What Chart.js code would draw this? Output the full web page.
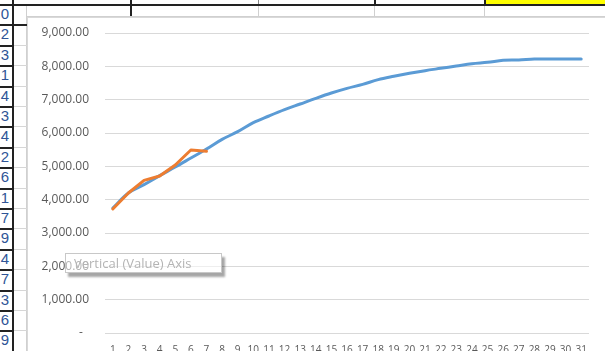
<!DOCTYPE html>
<html>
<head>
<meta charset="utf-8">
<script src="https://cdn.jsdelivr.net/npm/chart.js@4"></script>
<style>
    body { margin: 0; width: 605px; height: 351px; overflow: hidden; background: #fff; position: relative; font-family: 'Open Sans', sans-serif; }
    .ln { position: absolute; }
    .rownum { position: absolute; left: -3px; width: 12px; text-align: right; color: #2f5597; font-size: 15px; line-height: 20px; font-family: 'Liberation Sans', sans-serif; }
    #chartBox { position: absolute; left: 27px; top: 17px; width: 578px; height: 334px; background: #fff; border-left: 1px solid #d9d9d9; border-top: 1px solid #d9d9d9; }
    #tip { position: absolute; left: 65px; top: 253px; width: 147px; height: 18px; border: 1px solid #c8c8c8; background: rgba(255,255,255,0.55); box-shadow: 3px 4px 2px rgba(0,0,0,0.35); color: #b4b4b4; font-size: 13px; line-height: 18px; padding-left: 8px; white-space: nowrap; }
</style>
</head>
<body>
<div id="sheet"></div>
<div id="chartBox"><canvas id="myChart" width="578" height="334"></canvas></div>
<div id="tip">Vertical (Value) Axis</div>

<script>
// category labels (days)
const days = ['1', '2', '3', '4', '5', '6', '7', '8', '9', '10', '11', '12', '13', '14', '15', '16',
    '17', '18', '19', '20', '21', '22', '23', '24', '25', '26', '27', '28', '29', '30', '31'];

// blue series
const planned = [3750, 4200, 4450, 4720, 4980, 5250, 5520, 5810, 6040, 6310, 6510, 6700, 6870, 7040, 7200, 7340,
    7460, 7600, 7700, 7790, 7870, 7940, 8010, 8080, 8120, 8180, 8190, 8220, 8220, 8220, 8220];

// orange series (first week only)
const actual = [3720, 4200, 4580, 4710, 5040, 5490, 5450];

// y axis ticks
const yTicks = [0, 1000, 2000, 3000, 4000, 5000, 6000, 7000, 8000, 9000];

// row numbers down the left edge of the sheet
const rowNums = ['0', '2', '3', '1', '4', '3', '4', '2', '6', '1', '7', '9', '4', '7', '3', '6', '9'];

// --- sheet background (cells behind the chart) ---
const sheet = document.getElementById('sheet');
function line(x, y, w, h, color) {
    const d = document.createElement('div');
    d.className = 'ln';
    d.style.cssText = `left:${x}px;top:${y}px;width:${w}px;height:${h}px;background:${color};`;
    sheet.appendChild(d);
}
// yellow cell top right
line(485, 0, 120, 4, '#ffff00');
// top row separators
line(0, 4, 605, 2, '#222');
line(12, 0, 2, 4, '#222');
line(130, 0, 2, 17, '#222');
line(258, 0, 1, 4, '#888');
line(374, 0, 2, 4, '#222');
line(484, 0, 2, 4, '#222');
line(258, 6, 1, 11, '#d0d0d0');
line(374, 6, 1, 11, '#d0d0d0');
line(484, 6, 1, 11, '#d0d0d0');
line(27, 16, 578, 1, '#d0d0d0');
// left column
line(12, 0, 2, 351, '#222');
line(26, 6, 1, 345, '#d0d0d0');
const rowH = 20.4;
rowNums.forEach((n, i) => {
    const y = Math.round(4 + rowH * (i + 1));
    line(0, y, 12, 2, '#222');
    line(14, y, 13, 1, '#d6d6d6');
    const t = document.createElement('div');
    t.className = 'rownum';
    t.style.top = Math.round(4 + rowH * i) + 'px';
    t.textContent = n;
    sheet.appendChild(t);
});
line(14, 24, 13, 2, '#222');

// --- chart ---
const ctx = document.getElementById('myChart');

const chart = new Chart(ctx, {
    type: 'line',
    data: {
        labels: days,
        datasets: [{
            label: 'Series1',
            data: planned,
            borderColor: '#5b9bd5',
            borderWidth: 3,
            pointRadius: 0,
            tension: 0.35,
            borderCapStyle: 'round',
            borderJoinStyle: 'round',
            order: 1
        }, {
            label: 'Series2',
            data: actual,
            borderColor: '#ed7d31',
            borderWidth: 3,
            pointRadius: 0,
            tension: 0,
            borderCapStyle: 'round',
            borderJoinStyle: 'round',
            order: 0 // orange on top
        }]
    },
    options: {
        responsive: false,
        animation: false,
        devicePixelRatio: 1,
        layout: {
            padding: { left: 0, top: 15, right: 17, bottom: 0 }
        },
        scales: {
            x: {
                offset: true,
                grid: { display: false },
                border: { display: false },
                ticks: {
                    autoSkip: false,
                    maxRotation: 0,
                    padding: 3,
                    color: '#595959',
                    font: { family: 'Open Sans', size: 10 }
                },
                afterFit: (scale) => { scale.height = 19; }
            },
            y: {
                min: yTicks[0],
                max: yTicks[yTicks.length - 1],
                afterBuildTicks: (scale) => { scale.ticks = yTicks.map(v => ({ value: v })); },
                // invisible tick marks keep the gap between labels and plot
                grid: { color: '#d9d9d9', tickLength: 16, tickColor: 'rgba(0,0,0,0)' },
                border: { display: false },
                ticks: {
                    padding: 0,
                    color: '#595959',
                    font: { family: 'Open Sans', size: 12 },
                    callback: (v) => v === 0 ? '-  ' : v.toLocaleString('en-US', { minimumFractionDigits: 2, maximumFractionDigits: 2 })
                },
                afterFit: (scale) => { scale.width = 77; }
            }
        },
        plugins: {
            legend: { display: false },
            tooltip: { enabled: false }
        }
    }
});
</script>
</body>
</html>
